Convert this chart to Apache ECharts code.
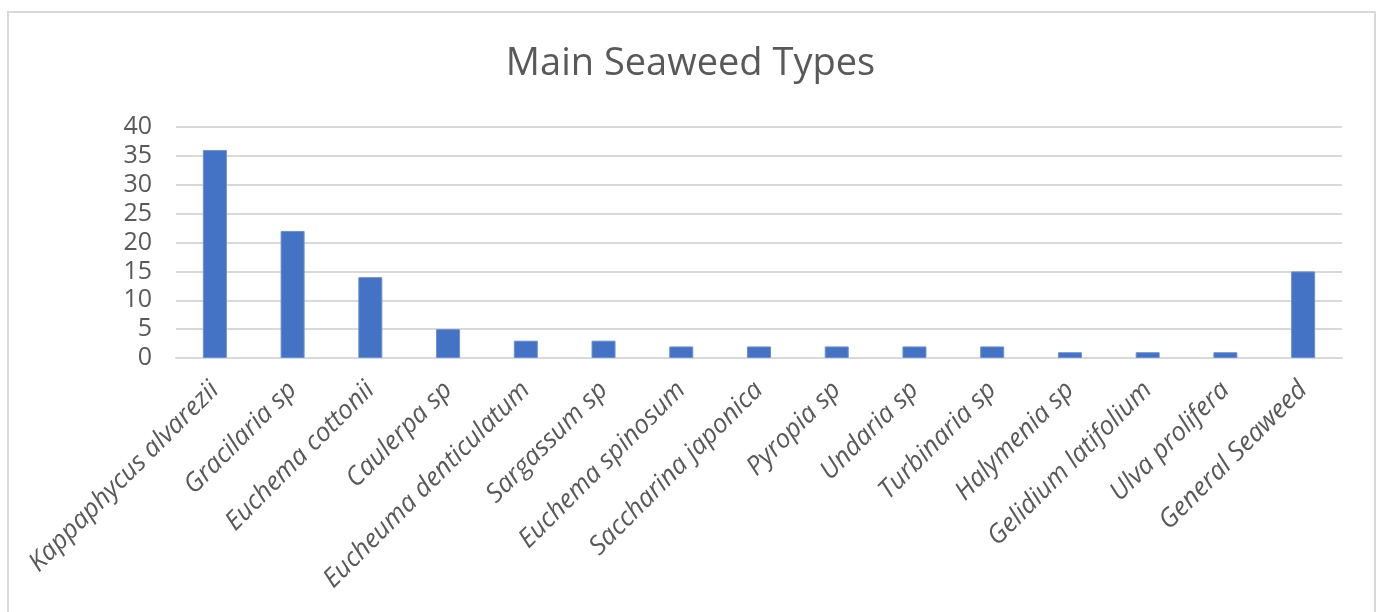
<!DOCTYPE html>
<html>
<head>
<meta charset="utf-8">
<script src="https://cdn.jsdelivr.net/npm/echarts@6/dist/echarts.min.js"></script>
<style>
    html, body { margin: 0; padding: 0; background: #fff; }
    #main { width: 1381px; height: 612px; }
</style>
</head>
<body>
<div id="main"></div>
<script>
// seaweed types and number of mentions
var categories = [
    "Kappaphycus alvarezii", "Gracilaria sp", "Euchema cottonii", "Caulerpa sp",
    "Eucheuma denticulatum", "Sargassum sp", "Euchema spinosum", "Saccharina japonica",
    "Pyropia sp", "Undaria sp", "Turbinaria sp", "Halymenia sp",
    "Gelidium latifolium", "Ulva prolifera", "General Seaweed"
];
var counts = [36, 22, 14, 5, 3, 3, 2, 2, 2, 2, 2, 1, 1, 1, 15];
var yTicks = [0, 5, 10, 15, 20, 25, 30, 35, 40];

var chart = echarts.init(document.getElementById("main"));
chart.setOption({
    backgroundColor: "#fff",
    animation: false,
    graphic: [{
        type: "rect",
        shape: { x: 8, y: 12, width: 1367, height: 640 },
        style: { fill: "none", stroke: "#d9d9d9", lineWidth: 2 }
    }],
    title: {
        text: "Main Seaweed Types",
        left: "center",
        top: 40,
        textStyle: {
            fontFamily: "Open Sans",
            fontWeight: "normal",
            fontSize: 38,
            color: "#595959"
        }
    },
    grid: {
        left: 176,
        right: 39,
        top: 127,
        bottom: 254,
        containLabel: false
    },
    xAxis: {
        type: "category",
        data: categories,
        axisLine: { lineStyle: { color: "#d9d9d9", width: 2 } },
        axisTick: { show: false },
        axisLabel: {
            interval: 0,
            rotate: 45,
            margin: 28,
            fontFamily: "Open Sans",
            fontStyle: "italic",
            fontSize: 26,
            color: "#595959"
        }
    },
    yAxis: {
        type: "value",
        min: yTicks[0],
        max: yTicks[yTicks.length - 1],
        interval: 5,
        axisLine: { show: false },
        axisTick: { show: false },
        splitLine: { lineStyle: { color: "#d9d9d9", width: 2 } },
        axisLabel: {
            margin: 24,
            fontFamily: "Open Sans",
            fontSize: 25,
            color: "#595959"
        }
    },
    series: [{
        type: "bar",
        data: counts,
        barWidth: 24,
        itemStyle: { color: "#4472c4", borderColor: "#6a8fd4", borderWidth: 1 }
    }]
});
</script>
</body>
</html>
